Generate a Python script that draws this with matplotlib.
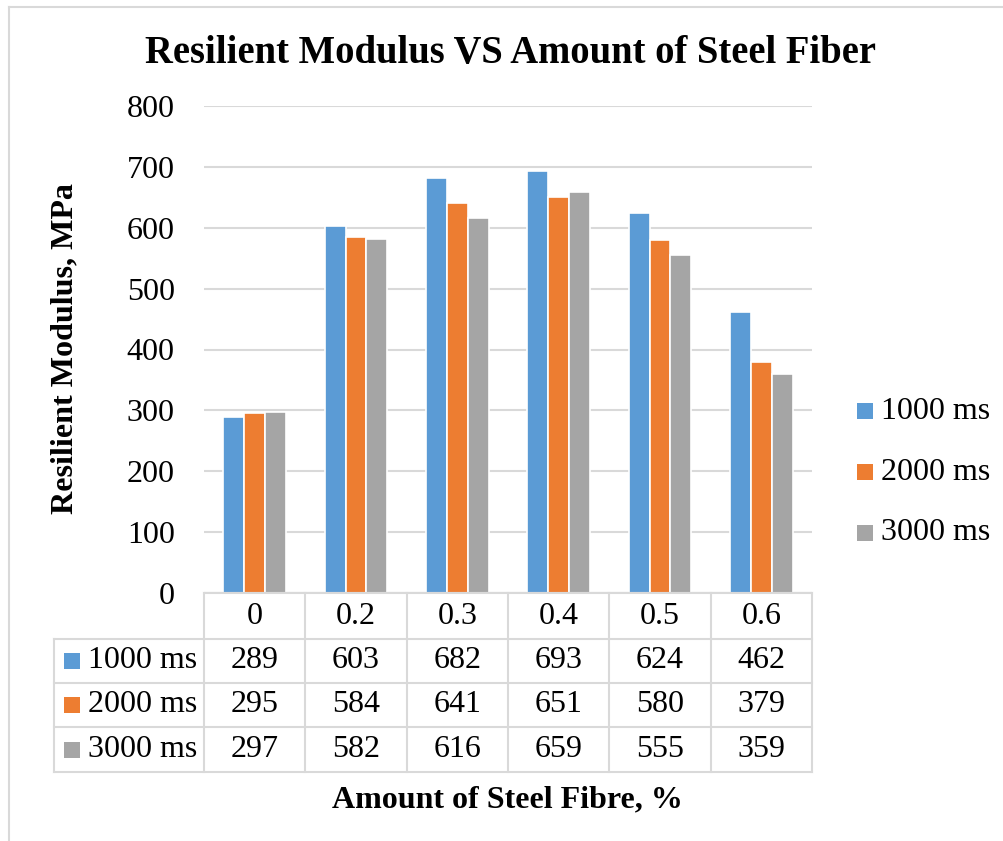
import matplotlib
matplotlib.use("Agg")
import matplotlib.pyplot as plt
from matplotlib.lines import Line2D
from matplotlib.patches import Rectangle
from matplotlib import transforms

# ---- data -------------------------------------------------------------
fibre_amounts = ["0", "0.2", "0.3", "0.4", "0.5", "0.6"]
series_names = ["1000 ms", "2000 ms", "3000 ms"]
mr_1000 = [289, 603, 682, 693, 624, 462]
mr_2000 = [295, 584, 641, 651, 580, 379]
mr_3000 = [297, 582, 616, 659, 555, 359]
series_values = [mr_1000, mr_2000, mr_3000]
y_ticks = [0, 100, 200, 300, 400, 500, 600, 700, 800]

colors = ["#5B9BD5", "#ED7D31", "#A5A5A5"]
grid_color = "#D9D9D9"
border_color = "#D9D9D9"

W, H = 1004, 841
FS = 23
plt.rcParams["font.family"] = ["Liberation Serif", "DejaVu Serif"]


def fx(x):
    return x / W


def fy(y):
    return 1 - y / H


fig = plt.figure(figsize=(W / 100, H / 100), dpi=100)

# plot area in pixel coordinates
left, right, top, bottom = 204, 812, 106, 593
ax = fig.add_axes([fx(left), fy(bottom), fx(right - left), (bottom - top) / H])

n = len(fibre_amounts)
bar_w = 0.206
xs = list(range(n))
for i, (vals, col, name) in enumerate(zip(series_values, colors, series_names)):
    offs = [x + (i - 1) * bar_w for x in xs]
    ax.bar(offs, vals, width=bar_w, color=col, edgecolor="white",
           linewidth=1.2, label=name, zorder=3)

ax.set_xlim(-0.5, n - 0.5)
ax.set_ylim(0, 800)
ax.set_yticks(y_ticks)
ax.set_yticklabels([str(t) for t in y_ticks], fontsize=FS)
ax.tick_params(axis="y", length=0, pad=21)
ax.set_xticks([])
ax.grid(axis="y", color=grid_color, linewidth=1.5, zorder=0)
for s in ax.spines.values():
    s.set_visible(False)
ax.axhline(0, color=grid_color, linewidth=1.5, zorder=4)

# ---- data table under the axis -----------------------------------------
row_lines = [593, 639, 683, 727, 772]
col_bounds = [left + k * (right - left) / n for k in range(n + 1)]
label_left = 54
lw = 1.5

# horizontal lines
fig.add_artist(Line2D([fx(left), fx(right)], [fy(row_lines[0])] * 2,
                      color=grid_color, lw=lw))
for yl in row_lines[1:]:
    fig.add_artist(Line2D([fx(label_left), fx(right)], [fy(yl)] * 2,
                          color=grid_color, lw=lw))
# vertical lines
for xb in col_bounds:
    fig.add_artist(Line2D([fx(xb), fx(xb)], [fy(row_lines[0]), fy(row_lines[-1])],
                          color=grid_color, lw=lw))
fig.add_artist(Line2D([fx(label_left), fx(label_left)],
                      [fy(row_lines[1]), fy(row_lines[-1])],
                      color=grid_color, lw=lw))

tr = transforms.blended_transform_factory(ax.transData, fig.transFigure)
row_centers = [(row_lines[k] + row_lines[k + 1]) / 2 for k in range(4)]
for x, lab in zip(xs, fibre_amounts):
    fig.text(x, fy(row_centers[0]), lab, transform=tr, ha="center",
             va="center", fontsize=FS)
for r, (vals, col, name) in enumerate(zip(series_values, colors, series_names)):
    yc = row_centers[r + 1]
    for x, v in zip(xs, vals):
        fig.text(x, fy(yc), str(v), transform=tr, ha="center", va="center",
                 fontsize=FS)
    fig.add_artist(Rectangle((fx(64), fy(yc + 8)), fx(16), 16 / H,
                             facecolor=col, edgecolor="none"))
    fig.text(fx(88), fy(yc), name, ha="left", va="center", fontsize=FS)

# ---- legend --------------------------------------------------------------
leg_y = [411, 472, 533]
for yc, col, name in zip(leg_y, colors, series_names):
    fig.add_artist(Rectangle((fx(857), fy(yc + 8)), fx(16), 16 / H,
                             facecolor=col, edgecolor="none"))
    fig.text(fx(881), fy(yc), name, ha="left", va="center", fontsize=FS)

# ---- titles ----------------------------------------------------------------
fig.text(fx(511), fy(63), "Resilient Modulus VS Amount of Steel Fiber",
         ha="center", va="baseline", fontsize=27.8, fontweight="bold")
fig.text(fx(65), fy(349), "Resilient Modulus, MPa", rotation=90,
         ha="center", va="center", fontsize=23.1, fontweight="bold")
fig.text(fx(507), fy(807), "Amount of Steel Fibre, %", ha="center",
         va="baseline", fontsize=23, fontweight="bold")

# chart frame
fig.add_artist(Line2D([fx(9), fx(W)], [fy(7), fy(7)], color=border_color, lw=1.5))
fig.add_artist(Line2D([fx(9), fx(9)], [fy(7), fy(H)], color=border_color, lw=1.5))

fig.savefig("out.png", dpi=100, facecolor="white")
